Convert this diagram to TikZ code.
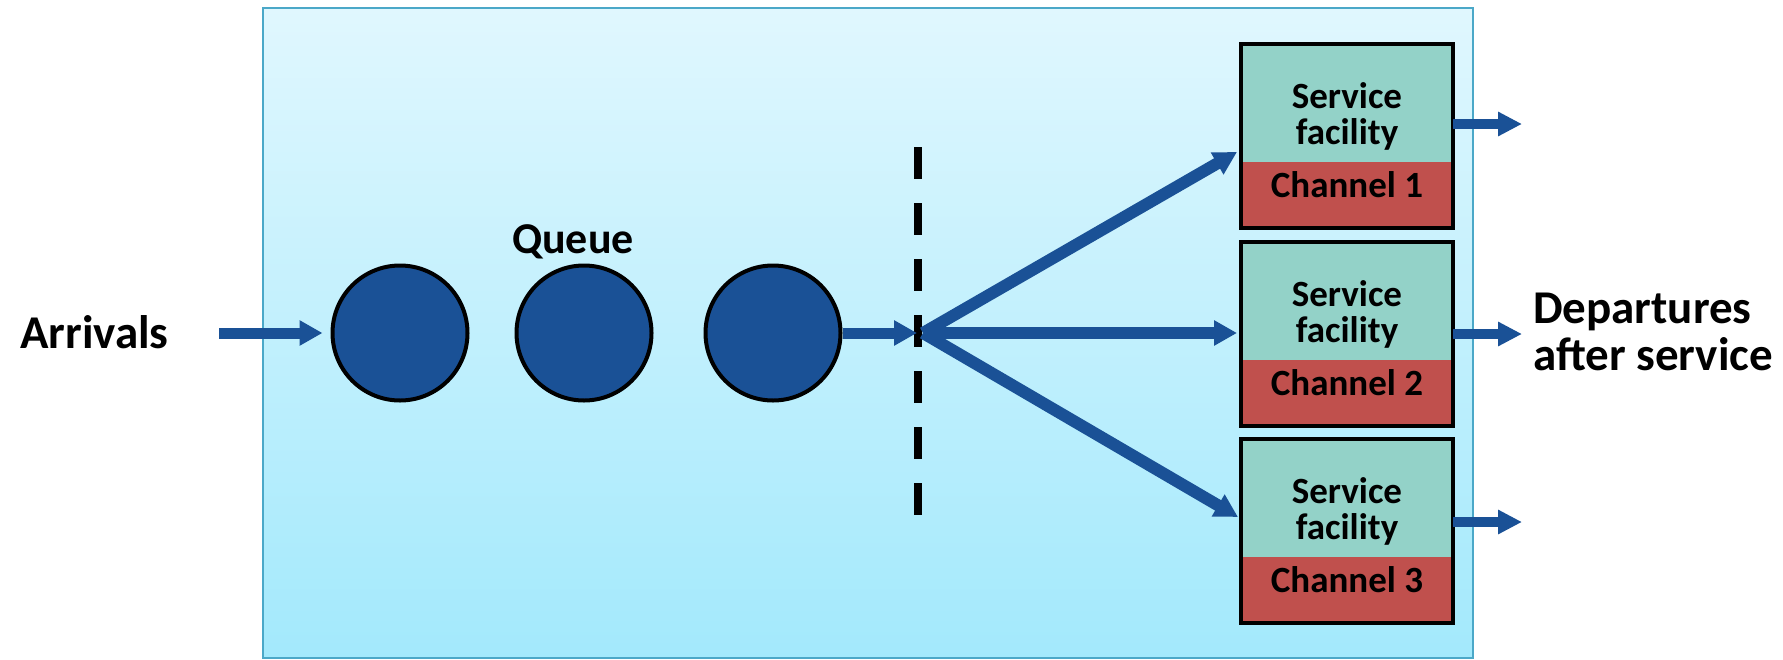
\documentclass[tikz,border=0pt]{standalone}
\usepackage{fontspec}
\setmainfont{Carlito}
\usetikzlibrary{arrows.meta,calc,positioning}
\definecolor{bgtop}{RGB}{224,247,254}
\definecolor{bgbot}{RGB}{163,233,252}
\definecolor{bgline}{RGB}{75,168,200}
\definecolor{qblue}{RGB}{26,81,150}
\definecolor{facteal}{RGB}{147,210,200}
\definecolor{chred}{RGB}{192,80,77}
\begin{document}
\begin{tikzpicture}[x=1pt,y=-1pt,
  sysbox/.style={draw=bgline, line width=2pt, top color=bgtop, bottom color=bgbot,
    minimum width=1210pt, minimum height=650pt, inner sep=0pt, anchor=north west},
  cust/.style={circle, fill=qblue, draw=black, line width=4pt, minimum size=135pt, inner sep=0pt},
  flow/.style={draw=qblue, line width=11pt, -{Triangle[width=24pt,length=23pt]}},
  outflow/.style={draw=qblue, line width=10pt, -{Triangle[width=23pt,length=24pt]}},
  gateline/.style={draw=black, line width=8pt, dash pattern=on 32pt off 24pt},
  fac/.style={fill=facteal, minimum width=212pt, minimum height=118pt, inner sep=0pt},
  chan/.style={fill=chred, minimum width=212pt, minimum height=65pt, inner sep=0pt},
  boxborder/.style={draw=black, line width=4pt},
  bigtxt/.style={font={\fontsize{47}{47}\selectfont\bfseries}, inner sep=0pt, text=black},
  qtxt/.style={font={\fontsize{44}{44}\selectfont\bfseries}, inner sep=0pt, text=black},
  ftxt/.style={font={\fontsize{37}{36}\selectfont\bfseries}, inner sep=0pt, align=center, text=black},
  chtxt/.style={font={\fontsize{37}{37}\selectfont\bfseries}, inner sep=0pt, text=black}
]
\useasboundingbox (0,0) rectangle (1783,659);
\node[sysbox] (sys) at (262,7) {};

% queue customers
\node[cust] (c1) at (400,333) {};
\node[cust] (c2) at (584,333) {};
\node[cust] (c3) at (773,333) {};
\node[qtxt, anchor=base] (q) at (573,253) {Queue};

% arrivals
\node[bigtxt, anchor=base west] (arr) at (20,348) {Arrivals};
\coordinate (ain) at (219,333);
\draw[flow] (ain) -- ([xshift=-8pt]c1.west);

% gate
\coordinate (d1) at (918,147);
\coordinate (d2) at (918,515);
\draw[gateline] (d1) -- (d2);
\coordinate (gate) at (917,333);
\draw[flow] (c3.east) -- (gate);
\coordinate (hub) at (923,333);

% service facilities
\node[fac] (f1) at (1347,103) {};
\node[chan, below=0pt of f1] (h1) {};
\node[fac] (f2) at (1347,301) {};
\node[chan, below=0pt of f2] (h2) {};
\node[fac] (f3) at (1347,498) {};
\node[chan, below=0pt of f3] (h3) {};
\draw[boxborder] (f1.north west) rectangle (h1.south east);
\draw[boxborder] (f2.north west) rectangle (h2.south east);
\draw[boxborder] (f3.north west) rectangle (h3.south east);
\node[ftxt] (s1) at ([yshift=-13pt]f1.center) {Service\\facility};
\node[ftxt] (s2) at ([yshift=-13pt]f2.center) {Service\\facility};
\node[ftxt] (s3) at ([yshift=-13pt]f3.center) {Service\\facility};
\node[chtxt, anchor=base] (k1) at ([yshift=30pt]h1.south) {Channel 1};
\node[chtxt, anchor=base] (k2) at ([yshift=30pt]h2.south) {Channel 2};
\node[chtxt, anchor=base] (k3) at ([yshift=30pt]h3.south) {Channel 3};

% fan-out
\coordinate (t1) at (1237,152);
\coordinate (t2) at (1237,333);
\coordinate (t3) at (1238,517);
\draw[flow, line width=12pt] (hub) -- (t1);
\draw[flow, line width=12pt] (hub) -- (t2);
\draw[flow, line width=12pt] (hub) -- (t3);

% departures
\coordinate (o1) at (1522,124);
\coordinate (o2) at (1522,334);
\coordinate (o3) at (1522,522);
\draw[outflow] (f1.east |- o1) -- (o1);
\draw[outflow] (f2.east |- o2) -- (o2);
\draw[outflow] (f3.east |- o3) -- (o3);
\node[bigtxt, anchor=base west, align=left] (dep) at (1533,370) {Departures\\after service};
\end{tikzpicture}
\end{document}
